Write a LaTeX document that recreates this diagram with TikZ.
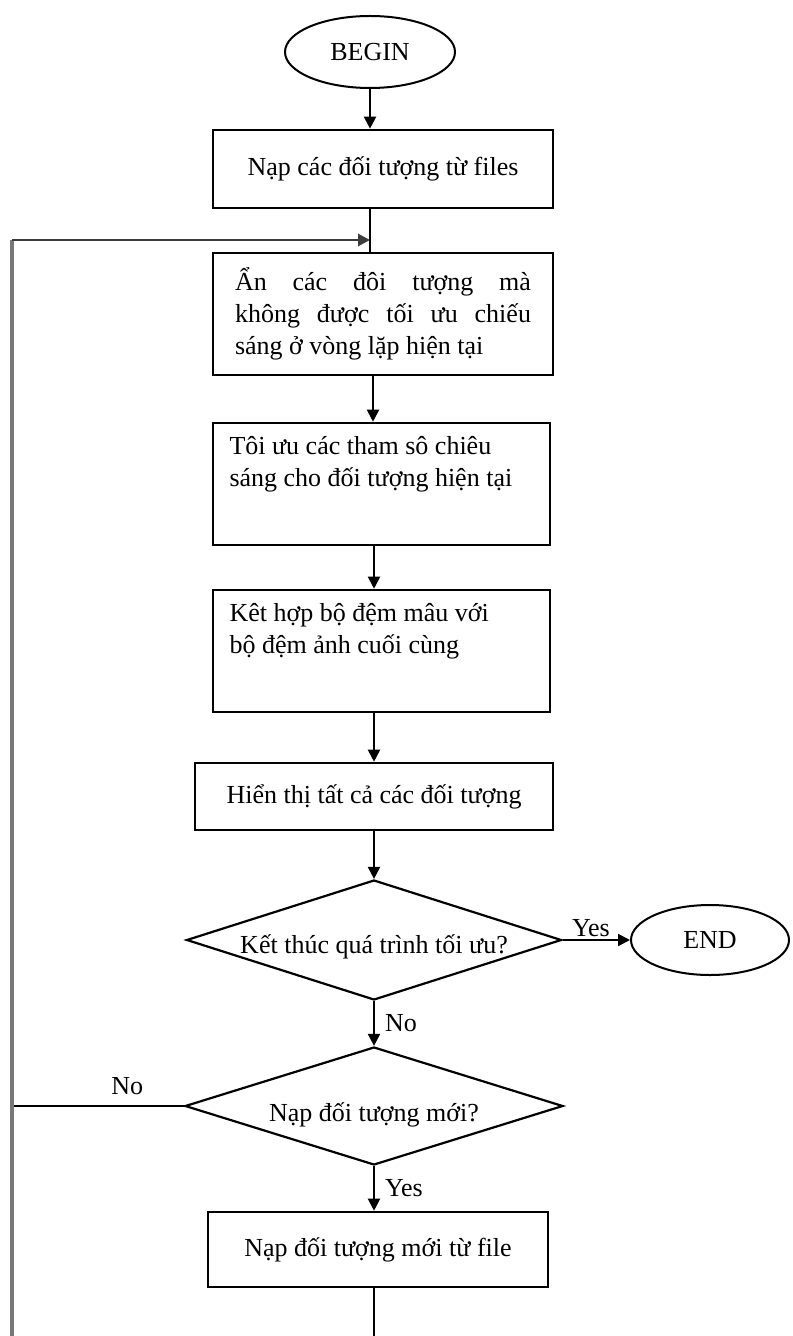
\documentclass[tikz,border=0pt]{standalone}
\usepackage{fontspec}
\setmainfont{Liberation Serif}
\usetikzlibrary{shapes.geometric,arrows.meta}
\begin{document}
\begin{tikzpicture}[x=0.5pt,y=-0.5pt,
  every node/.style={font=\fontsize{13}{16}\selectfont},
  procbox/.style={draw, line width=1.3pt, rectangle, inner sep=0pt, align=center},
  termbox/.style={draw, line width=1pt, ellipse, inner sep=0pt},
  decbox/.style={draw, line width=1.1pt, diamond, inner sep=0pt},
  conn/.style={line width=1pt},
  arr/.style={line width=1pt, -{Triangle[length=6pt,width=6pt]}},
  loopv/.style={line width=1.8pt, draw={rgb,255:red,120;green,120;blue,120}},
  looph/.style={line width=1.4pt, draw={rgb,255:red,60;green,60;blue,60}, -{Triangle[length=6pt,width=6pt]}},
  lbl/.style={inner sep=1pt}
]
\useasboundingbox (0,0) rectangle (792,1336);

\node[termbox, minimum width=85pt, minimum height=36pt] (begin) at (370,52) {BEGIN};
\node[procbox, minimum width=170pt, minimum height=39pt] (b1) at (383,169) {Nạp các đối tượng từ files};
\node[procbox, minimum width=170pt, minimum height=61pt] (b2) at (383,314)
  {\parbox{148pt}{\makebox[148pt][s]{Ẩn các đôi tượng mà}\\
   \makebox[148pt][s]{không được tối ưu chiếu}\\
   sáng ở vòng lặp hiện tại}};
\node[procbox, minimum width=168.5pt, minimum height=61pt] (b3) at (381.5,484)
  {\parbox[c][48pt][t]{152pt}{\raggedright Tôi ưu các tham sô chiêu\\ sáng cho đối tượng hiện tại}};
\node[procbox, minimum width=168.5pt, minimum height=61pt] (b4) at (381.5,651)
  {\parbox[c][48pt][t]{152pt}{\raggedright Kêt hợp bộ đệm mâu với\\ bộ đệm ảnh cuối cùng}};
\node[procbox, minimum width=179pt, minimum height=33.5pt] (b5) at (374,796.5) {Hiển thị tất cả các đối tượng};
\node[decbox, aspect=3.125, minimum width=187.5pt, minimum height=60pt] (d1) at (374,940)
  {\raisebox{-3.5pt}[\height][\depth]{Kết thúc quá trình tối ưu?}};
\node[termbox, minimum width=79pt, minimum height=35pt] (end) at (710,940) {END};
\node[decbox, aspect=3.2, minimum width=189pt, minimum height=59pt] (d2) at (374,1106)
  {\raisebox{-4.5pt}[\height][\depth]{Nạp đối tượng mới?}};
\node[procbox, minimum width=170pt, minimum height=37.5pt] (b6) at (378,1249.5) {Nạp đối tượng mới từ file};

\coordinate (lt) at (12,240);
\coordinate (lb) at (12,1336);
\coordinate (j) at (370,240);
\coordinate (c23) at (373,0);
\coordinate (bout) at (374,1336);

\draw[arr] (begin.south) -- (b1.north -| begin.south);
\draw[conn] (b1.south -| begin.south) -- (b2.north -| begin.south);
\draw[arr] (b2.south -| c23) -- (b3.north -| c23);
\draw[arr] (b3.south -| b5.north) -- (b4.north -| b5.north);
\draw[arr] (b4.south -| b5.north) -- (b5.north);
\draw[arr] (b5.south) -- (d1.north);
\draw[arr] (d1.east) -- (end.west) node[lbl, pos=0.42, above] {Yes};
\draw[arr] (d1.south) -- (d2.north) node[lbl, midway, right, xshift=4pt] {No};
\draw[arr] (d2.south) -- (b6.north -| d2.south) node[lbl, midway, right, xshift=4pt] {Yes};
\draw[conn] (b6.south -| d2.south) -- (bout);
\draw[conn] (d2.west) -- (lt |- d2.west) node[lbl, pos=0.33, above, yshift=4pt] {No};
\draw[loopv] (lb) -- (lt);
\draw[looph] (lt) -- (j);
\end{tikzpicture}
\end{document}
